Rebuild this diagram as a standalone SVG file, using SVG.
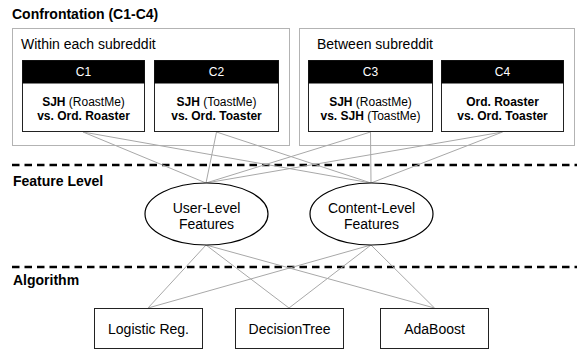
<svg xmlns="http://www.w3.org/2000/svg" width="577" height="350" viewBox="0 0 577 350">
<style>
text{font-family:"Liberation Sans",Arial,Helvetica,sans-serif;fill:#000}
.title{font-size:14px;font-weight:bold}
.grp{font-size:14px}
.hdr{font-size:12px;fill:#fff;text-anchor:middle}
.body{font-size:12px;text-anchor:middle}
.b{font-weight:bold}
.node{font-size:14px;text-anchor:middle}
.outer{fill:none;stroke:#666;stroke-width:1;stroke-dasharray:1 1}
.cbox{fill:#fff;stroke:#222;stroke-width:1}
.chead{fill:#000}
.ell{fill:#fff;stroke:#000;stroke-width:1.2}
.alg{fill:#fff;stroke:#222;stroke-width:1}
.sep{stroke:#000;stroke-width:2.5;stroke-dasharray:7.5 5;fill:none}
.conn line{stroke:#a8a8a8;stroke-width:1}
</style>

<text class="title" x="12" y="19">Confrontation (C1-C4)</text>
<text class="title" x="13" y="186">Feature Level</text>
<text class="title" x="13" y="285">Algorithm</text>

<line class="sep" x1="12" y1="165" x2="577" y2="165"/>
<line class="sep" x1="12" y1="267" x2="577" y2="267"/>

<g id="within">
<rect class="outer" x="12.5" y="28.5" width="277" height="117"/>
<text class="grp" x="21" y="49">Within each subreddit</text>
</g>
<g id="between">
<rect class="outer" x="299.5" y="28.5" width="275" height="117"/>
<text class="grp" x="317" y="49">Between subreddit</text>
</g>

<g class="conn" id="connectors">
<line x1="83" y1="132" x2="206" y2="183"/>
<line x1="83" y1="132" x2="371" y2="183"/>
<line x1="216.5" y1="132" x2="206" y2="183"/>
<line x1="216.5" y1="132" x2="371" y2="183"/>
<line x1="370.5" y1="132" x2="206" y2="183"/>
<line x1="370.5" y1="132" x2="371" y2="183"/>
<line x1="502.5" y1="132" x2="206" y2="183"/>
<line x1="502.5" y1="132" x2="371" y2="183"/>
<line x1="206" y1="245" x2="148" y2="308"/>
<line x1="206" y1="245" x2="289" y2="308"/>
<line x1="206" y1="245" x2="434.5" y2="308"/>
<line x1="371" y1="245" x2="148" y2="308"/>
<line x1="371" y1="245" x2="289" y2="308"/>
<line x1="371" y1="245" x2="434.5" y2="308"/>
</g>

<g id="C1">
<rect class="cbox" x="22.5" y="60.5" width="122" height="71"/>
<rect class="chead" x="22.5" y="60.5" width="122" height="23"/>
<text class="hdr" x="83.5" y="76">C1</text>
<text class="body" x="83.5" y="105.5"><tspan class="b">SJH</tspan> (RoastMe)</text>
<text class="body b" x="83.5" y="120">vs. Ord. Roaster</text>
</g>
<g id="C2">
<rect class="cbox" x="154.5" y="60.5" width="124" height="71"/>
<rect class="chead" x="154.5" y="60.5" width="124" height="23"/>
<text class="hdr" x="216.5" y="76">C2</text>
<text class="body" x="216.5" y="105.5"><tspan class="b">SJH</tspan> (ToastMe)</text>
<text class="body b" x="216.5" y="120">vs. Ord. Toaster</text>
</g>
<g id="C3">
<rect class="cbox" x="308.5" y="60.5" width="124" height="71"/>
<rect class="chead" x="308.5" y="60.5" width="124" height="23"/>
<text class="hdr" x="370.5" y="76">C3</text>
<text class="body" x="370.5" y="105.5"><tspan class="b">SJH</tspan> (RoastMe)</text>
<text class="body" x="370.5" y="120"><tspan class="b">vs. SJH</tspan> (ToastMe)</text>
</g>
<g id="C4">
<rect class="cbox" x="441.5" y="60.5" width="122" height="71"/>
<rect class="chead" x="441.5" y="60.5" width="122" height="23"/>
<text class="hdr" x="502.5" y="76">C4</text>
<text class="body b" x="502.5" y="105.5">Ord. Roaster</text>
<text class="body b" x="502.5" y="120">vs. Ord. Toaster</text>
</g>

<g id="user-level">
<ellipse class="ell" cx="206.5" cy="214" rx="61.5" ry="31"/>
<text class="node" x="206.5" y="213">User-Level</text>
<text class="node" x="206.5" y="229">Features</text>
</g>
<g id="content-level">
<ellipse class="ell" cx="371.5" cy="214" rx="61.5" ry="31"/>
<text class="node" x="371.5" y="213">Content-Level</text>
<text class="node" x="371.5" y="229">Features</text>
</g>

<g id="logistic">
<rect class="alg" x="94.5" y="308.5" width="108" height="40"/>
<text class="node" x="148.5" y="334">Logistic Reg.</text>
</g>
<g id="decisiontree">
<rect class="alg" x="235.5" y="308.5" width="108" height="40"/>
<text class="node" x="289.5" y="334">DecisionTree</text>
</g>
<g id="adaboost">
<rect class="alg" x="380.5" y="308.5" width="108" height="40"/>
<text class="node" x="434.5" y="334">AdaBoost</text>
</g>
</svg>
